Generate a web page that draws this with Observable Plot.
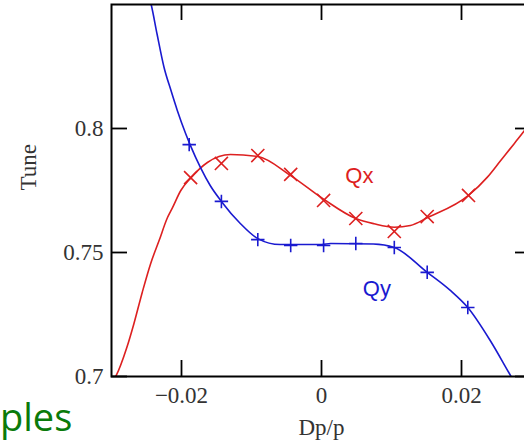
<!DOCTYPE html>
<html><head><meta charset="utf-8">
<script src="https://cdn.jsdelivr.net/npm/d3@7"></script>
<script src="https://cdn.jsdelivr.net/npm/@observablehq/plot@0.6"></script>
<style>
html,body{margin:0;padding:0;background:#fff;overflow:hidden;}
#wrap{position:relative;width:524px;height:443px;overflow:hidden;}
#chart{position:absolute;left:0;top:0;width:540px;}
#ples{position:absolute;left:0px;top:397px;font-family:"Open Sans";font-size:38px;line-height:1;color:#0a7a0a;white-space:nowrap;}
</style></head><body>
<div id="wrap"><div id="chart"></div><div id="ples">ples</div></div>
<script>
// Qx fitted curve (Dp/p, tune)
const qxCurveDp   = [-0.0296, -0.0294, -0.0278, -0.0268, -0.0256, -0.0244, -0.0232, -0.0220, -0.0213, -0.0201, -0.0187, -0.0163, -0.0130, -0.0091, -0.0044, 0.0003, 0.0049, 0.0075, 0.0104, 0.0127, 0.0151, 0.0210, 0.0237, 0.0256, 0.0275, 0.0290, 0.0300];
const qxCurveTune = [0.6990, 0.7000, 0.7118, 0.7213, 0.7340, 0.7456, 0.7548, 0.7641, 0.7680, 0.7750, 0.7800, 0.7863, 0.7895, 0.7887, 0.7810, 0.7715, 0.7637, 0.7616, 0.7602, 0.7609, 0.7640, 0.7730, 0.7804, 0.7871, 0.7938, 0.7992, 0.8030];
// Qy fitted curve
const qyCurveDp   = [-0.0246, -0.0243, -0.0235, -0.0225, -0.0215, -0.0206, -0.0194, -0.0187, -0.0173, -0.0159, -0.0143, -0.0116, -0.0091, -0.0059, 0.0000, 0.0013, 0.0074, 0.0104, 0.0151, 0.0184, 0.0209, 0.0241, 0.0270, 0.0275];
const qyCurveTune = [0.8530, 0.8496, 0.8382, 0.8247, 0.8153, 0.8073, 0.7979, 0.7930, 0.7843, 0.7770, 0.7706, 0.7617, 0.7556, 0.7532, 0.7532, 0.7536, 0.7534, 0.7520, 0.7420, 0.7347, 0.7278, 0.7145, 0.7004, 0.6980];
// measured points
const qxMarkDp   = [-0.0187, -0.0143, -0.0091, -0.0044, 0.0003, 0.0049, 0.0104, 0.0151, 0.0210];
const qxMarkTune = [0.7802, 0.7859, 0.7891, 0.7815, 0.7710, 0.7637, 0.7585, 0.7645, 0.7730];
const qyMarkDp   = [-0.0189, -0.0143, -0.0091, -0.0044, 0.0003, 0.0049, 0.0104, 0.0151, 0.0209];
const qyMarkTune = [0.7935, 0.7706, 0.7552, 0.7528, 0.7528, 0.7536, 0.7520, 0.7420, 0.7278];
// tick values
const xTicks = [-0.02, 0, 0.02];
const yTicks = [0.7, 0.75, 0.8];
// series labels
const seriesNames = ["Qx", "Qy"];
const seriesColors = ["#dd2020", "#1a1ad0"];
const labelDp = [0.0034, 0.0059];
const labelTune = [0.7782, 0.7323];

const zip = (xs, ys) => xs.map((x, i) => ({x, y: ys[i]}));
const qxCurve = zip(qxCurveDp, qxCurveTune);
const qyCurve = zip(qyCurveDp, qyCurveTune);
const qxMarks = zip(qxMarkDp, qxMarkTune);
const qyMarks = zip(qyMarkDp, qyMarkTune);
const labels = seriesNames.map((n, i) => ({n, x: labelDp[i], y: labelTune[i], c: seriesColors[i]}));

const innerH = 443 - 4 - 67;
const innerW = 540 - 111 - 9;
const tickLen = 16;

const chart = Plot.plot({
  width: 540, height: 443,
  marginLeft: 111, marginRight: 9, marginTop: 4, marginBottom: 67,
  style: {fontFamily: "Liberation Serif", fontSize: "23px", color: "#333", background: "transparent", maxWidth: "none"},
  x: {domain: [-0.03, 0.03]},
  y: {domain: [0.7, 0.85]},
  marks: [
    Plot.line(qxCurve, {x: "x", y: "y", stroke: seriesColors[0], strokeWidth: 1.6, curve: "monotone-x", clip: true}),
    Plot.line(qyCurve, {x: "x", y: "y", stroke: seriesColors[1], strokeWidth: 1.6, curve: "monotone-x", clip: true}),
    Plot.dot(qxMarks, {x: "x", y: "y", symbol: "times", r: 6, stroke: seriesColors[0], strokeWidth: 1.6}),
    Plot.dot(qyMarks, {x: "x", y: "y", symbol: "plus", r: 4.4, stroke: seriesColors[1], strokeWidth: 1.6}),
    Plot.tickX(xTicks, {x: d => d, insetTop: innerH - tickLen, stroke: "black", strokeWidth: 1.8}),
    Plot.tickX(xTicks, {x: d => d, insetBottom: innerH - tickLen, stroke: "black", strokeWidth: 1.8}),
    Plot.tickY(yTicks, {y: d => d, insetRight: innerW - tickLen, stroke: "black", strokeWidth: 1.8}),
    Plot.tickY(yTicks, {y: d => d, insetLeft: innerW - tickLen, stroke: "black", strokeWidth: 1.8}),
    Plot.frame({stroke: "black", strokeWidth: 2}),
    Plot.axisX(xTicks, {tickSize: 0, tickPadding: 10, label: null, fill: "#333",
      tickFormat: d => d === 0 ? "0" : d3.format(".2f")(d)}),
    Plot.axisY(yTicks, {tickSize: 0, tickPadding: 8, label: null, fill: "#333", tickFormat: d => String(d)}),
    Plot.text(["Dp/p"], {frameAnchor: "bottom", dy: 58, lineAnchor: "bottom", fill: "#333"}),
    Plot.text(["Tune"], {frameAnchor: "left", dx: -76, rotate: -90, lineAnchor: "bottom", fill: "#333"}),
    Plot.text(labels, {x: "x", y: "y", text: "n", fill: "c", fontFamily: "Liberation Sans", fontSize: 22, textAnchor: "start", lineAnchor: "bottom"})
  ]
});
document.getElementById("chart").appendChild(chart);
</script>
</body></html>
